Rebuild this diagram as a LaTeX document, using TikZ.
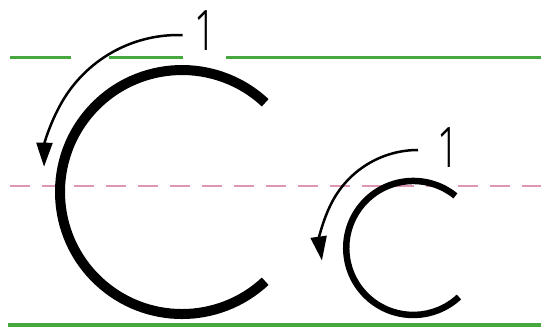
\documentclass[tikz,border=0pt]{standalone}
\usepackage{fontspec}
\newfontfamily\thinfont{Fira Sans Light}
\usetikzlibrary{arrows.meta}
\definecolor{guidegreen}{RGB}{72,168,64}
\definecolor{guidepink}{RGB}{222,150,180}
\tikzset{
  greenline/.style={draw=guidegreen, line width=3pt},
  pinkline/.style={draw=guidepink, line width=2pt, dash pattern=on 20pt off 12pt},
  letterstroke/.style={draw=black, line cap=butt},
  strokearrow/.style={draw=black, line width=2.5pt, -{Triangle[length=24pt,width=16pt]}},
  numlabel/.style={inner sep=0pt, xscale=0.62, font=\thinfont\fontsize{60}{60}\selectfont}
}
\begin{document}
\begin{tikzpicture}[x=1pt,y=1pt]
\useasboundingbox (0,0) rectangle (544,327);
% guide lines (y-up: Y = 327 - py)
\coordinate (t1a) at (10,269); \coordinate (t1b) at (71,269);
\coordinate (t2a) at (109,269); \coordinate (t2b) at (183,269);
\coordinate (t3a) at (226,269); \coordinate (t3b) at (541,269);
\draw[greenline] (t1a) -- (t1b);
\draw[greenline] (t2a) -- (t2b);
\draw[greenline] (t3a) -- (t3b);
\coordinate (ma) at (10,141); \coordinate (mb) at (541,141);
\draw[pinkline] (ma) -- (mb);
\coordinate (ba) at (8,2.5); \coordinate (bb) at (541,2.5);
\draw[greenline, line width=4pt] (ba) -- (bb);
% big C
\draw[letterstroke, line width=10pt] (265.2,224.2) arc[start angle=47, end angle=313, radius=122];
% small c
\draw[letterstroke, line width=6.5pt] (455.4,131.1) arc[start angle=51, end angle=313, radius=67];
% arrows
\draw[strokearrow] (182.7,291.9) arc[start angle=88, end angle=179, radius=134];
\draw[strokearrow] (418,177) arc[start angle=90, end angle=188, radius=97];
% numbers
\node[numlabel] (n1) at (204,296) {1};
\node[numlabel] (n2) at (447,179) {1};
\end{tikzpicture}
\end{document}
